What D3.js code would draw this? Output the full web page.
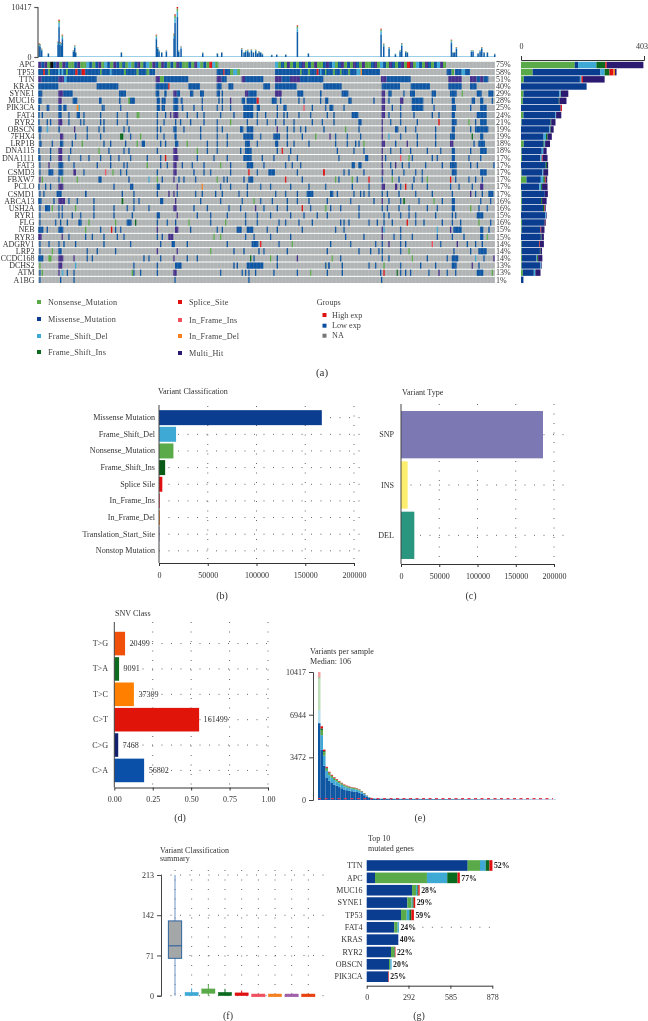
<!DOCTYPE html>
<html><head><meta charset="utf-8">
<script src="https://cdnjs.cloudflare.com/ajax/libs/d3/7.8.5/d3.min.js"></script>
<style>html,body{margin:0;background:#fff}svg{display:block;filter:blur(.3px)}text{font-family:"Liberation Serif",serif;fill:#333}</style>
</head><body><svg id="c" width="648" height="1021"></svg>
<script>
// ---------- shared categories
const typeColor={m:"#0a3d8f",n:"#5aaa4a",l:"#3fa9d6",i:"#0a6a1e",s:"#e01010",r:"#ef5060",o:"#f58020",p:"#2c1a70"};
const legendLeft=[["n","Nonsense_Mutation"],["m","Missense_Mutation"],["l","Frame_Shift_Del"],["i","Frame_Shift_Ins"]];
const legendMid=[["s","Splice_Site"],["r","In_Frame_Ins"],["o","In_Frame_Del"],["p","Multi_Hit"]];
const legendGroups=[["#e01010","High exp"],["#0a4f9e","Low exp"],["#777","NA"]];
// ---------- (a) oncoplot
const genes=["APC","TP53","TTN","KRAS","SYNE1","MUC16","PIK3CA","FAT4","RYR2","OBSCN","7FHX4","LRP1B","DNA115","DNA1111","FAT3","CSMD3","FBXW7","PCLO","CSMD1","ABCA13","USH2A","RYR1","FLG","NEB","RYR3","ADGRV1","LRP2","CCDC168","DCHS2","ATM","A1BG"];
const genePct=[75,58,51,40,29,28,25,24,21,19,19,18,18,17,17,17,17,17,17,16,16,15,16,15,15,14,14,14,13,13,1];
const sampleStart=115, sampleEnd=1485, rightOffset=960;
// APC stripes: one letter per 9 sample units
const apcLeftStart=115, apcLeft="pmpngmpnpmnnmpnnlmnmpnlmnpmnmnlnmpnmlnpmnpmnmnpmnnmnplnmnsln";
const apcRightStart=825, apcRight="lnmnpnmnmpnmnpnnmpmlnmpnmnpmnpnnmpnlmnpmnmpnspnlmnpmnmlpn";
const oncoLeft=[
"",
"115-130m 130-135s 135-145m 145-150n 150-175m 175-180l 180-185m 185-190l 190-198m 198-204n 204-226m 226-233s 233-245m 245-256s 256-300m 300-305n 305-330m 330-335l 335-372m 372-378n 378-410m 410-416n 416-440m 440-448n 448-465m 650-670m 670-674s 674-690m 690-700n 700-712l 712-720n 825-900m 900-905n 905-925m 925-930n 930-950m 950-956s 956-985m",
"115-125p 125-175m 175-192p 192-200l 200-225m 225-290m 467-480p 480-492n 492-565m 650-665p 665-680m 725-735p 735-790m 825-845p 845-870m 870-900p 900-925m 925-970m",
"115-175m 290-355m 467-505m 505-508s 565-600m 650-665m 685-700m 790-810m 825-890m",
"115-127 175-190p 190-218 357-378 467-478 493-500 520-530p 530-540 570-580 600-612 650-660 665 735-745p 745-770 825-845p 892-910",
"115-125 175-185p 218-232 297-305 357-362 385-390n 390-405 470-480 485-497 520-535 542-548 605 655 665 690p 725-735 740-770 770-776s 815-830 840 895 910 960",
"115-120 140-148 175-185 190-200 230-236o 236-240l 305 310 360 470-480 485-495 520-535 545-550 580 605 650 665 690 730-760 770-780 830 850-860 910r 935 975",
"115 125 175-185 205 230-240 250 300 350 380 410-418n 470 495 510p 520-535p 560 590 610 660 700 730-760 770 795 830 850 860 895 930",
"115 140 150 175-187p 205 240 250 300 310 350 380 470 490 525 540 570 610 650 690n 740 770 800 825 850 880 935",
"115-125 140-145l 175-180 222p 260 295 310 370 385 470 480 520-530 550 600 650 665 720-730 740-760 830p 860 880 900 915",
"118 180-190p 225 260 300 360-370i 390 420n 470 490 523-530 600 650 680 730-760 780 820-840 860 905 945n",
"118-125 155 180-190 215 245n 310 330 375 410n 425-435 480 495 525-535 560n 620 650 680 735-750 770 825-835 860 880 925",
"115 150 175-187p 210 295n 325 370 385 470 520-532p 590n 620 650 720 735-755 830 845s 870",
"115-122 150 175-187p 205 240 265 300 330 355 390 440 480 495s 520-535p 590 640 680 730-755 785 820 865 890",
"118 145p 175-190 220 290 330 370 380 440n 480 500 520-530p 545 575 610 660n 690 740-760 790 855 875 900",
"118 145-160 175-190 220-228p 250 315r 337n 360 378 470 520-530p 580 610 630 690 745s 770 805-825 890 970s",
"118p 125n 175 185n 230n 295-305 385 445l 470n 485 520p 535 550 585 650n 670 680 730 745-760 855s 905",
"115 135 150 175-190p 340 390-400 470-480 530p 605o 660 690 740 780 810 870 925",
"118 130 170-185 255-260 365 400 470 505p 520p 530 585 605 645 665 715 740 825 855 890 920-940",
"115-125 160 175-195p 205 230 280 365-370i 400 415 480-490 525p 600 660 725 760n 780 815 860 890 925",
"118 135-150 155n 175 185 225n 280 340 380 400 445 520-530p 580 620 685 720 765p 790 830 860 905s 930 975n",
"118 175 185 215 240 280 340 395 470-480 530p 590 630 680 735 770 810 870 910 950",
"118 165 180 200 235-245 265n 345n 380-395 405i 470 500 525 565n 630 675n 735 770 835 855 895 935",
"115-130 140 175-190 255n 300 333s 345 360 470p 525-535p 570 650 665 710-725 740-760 800 830 905",
"115-125p 185p 205 255 275 310 350 370 470 485 505-520p 640n 660n 735 760 810 870",
"118 145 175 190 225 310 390 480 515-525 560 680 755-775 780s 835 875n",
"118 155n 175-185 260 290 345 470p 530p 630n 700 730 775 790 860",
"115-130 145-155n 175-190p 220p 260 275 430 445 480 520p 560 590 750i 760 810n 830 890p",
"118n 175-187p 225l 400 470 525-545 700 710 740-790 830 975n 985",
"118 125n 175p 185-190l 200 220 395n 400 420 470 520-530p 660 725 735 745 765 820 890 930n",
"118 180 220 523 745"];
const oncoRight=[
"",
"0-5l 5-15m 15-20n 20-40m 40-45n 45-60m 60-65n 65-85m 85-90n 90-110m 110-122l 122-126o 126-180m 380-395m 395-402n 405-425m 425-435l 435-450m",
"0-5m 183-200p 200-272m 385-425p 450-470p 470-480m 480-490p 490-505m",
"10-65m 185-240m 272-330m 385-425m 450-470m",
"0-5 65-85 185-195p 205-215 250 270-285 335-348 390-410 425n 470-485 505-520",
"15-25 85-95 160 185-195p 205 240-250p 275-310 335 395-405 455-465 480-490 515",
"28-40 70 185-195p 215 240 275-310 340 395-408 450 480-500",
"20 40 95-115 185-195p 205 240 280 335 355 395-405 470-500",
"5 40 115-125 185p 210 240 290 355s 395-410 445n 465 480-500",
"10 75n 115 185p 225-235 255 285 345 395-405 450 465-505",
"28p 45 80 120 185p 205l 240 290 345 390-405 455i 480-490",
"45 80 105 115 130n 185-195p 225 260p 290 345 390-400p 460 475-495",
"50 100 130 185p 210 240 270 320 360 395-405 450 480-500",
"55 135-145 185p 195 240r 265n 275 335 350 395-405 445 480",
"95-105 115-125 185p 210 225p 245 265 315 365 390-410 450 470 520",
"10s 70 85 130 185-190p 215 250 285 305 395-410 480-500",
"45n 55 95n 110 145s 185 215n 235 280 305 320n 390s 405 445 465 485",
"15 95 145 185-195p 225-232p 240 255s 275 320 390 415 455 480-490p",
"30-40 50 100 120 130 145 185 200 235 285 335 395 450p 465 485 505-520",
"20 90 160 185p 205 240 250-255i 295 340n 365 395-405 480 510",
"15n 30 60 115 185 200 235 265 320 350 395-405 450n 475 500",
"20 115 190 205 240 265 285 345 395 405 470-490",
"60 70 85 145 170 190 215 260s 285 310 365 395 420 475n 510",
"45 70 185p 190l 240 350l 390p 400-425 480-490 505",
"75 130 185p 220 240 275 350 395 430 480-490 500n",
"30 90 165 185 205p 240 255 335r 360 410p 440 465 485",
"20 115 150 175 185 240 265n 400 450 475-500",
"35n 60 185 205 275n 320 380 395-415 465l 490 520p",
"15 25 65 145 165 190n 240 300 345 395-410 455p 475",
"20 65 180 190s 230i 240 255 270 325 355p 380 405 470-490 515n",
"183"];
// top bars: sample position, total variants
const tmbPos=[115,118,123,143,172,175,178,182,185,218,222,225,362,467,471,475,483,497,520,523,530,534,541,606,650,663,723,730,735,741,745,752,758,765,770,775,780,785,813,828,855,890,923,1141,1149,1165,1184,1198,1203,1215,1220,1352,1357,1362,1367,1412,1417,1432,1438,1443,1450,1460,1482];
const tmbVal=[2917,2700,1736,830,3200,7778,3125,2900,4650,1400,2430,1050,1040,4650,2083,1400,1040,1390,4860,8890,10417,1390,2222,970,830,1040,1875,1040,1390,1530,1040,1600,1040,1530,830,1250,1040,700,480,560,560,6600,830,5900,2780,2083,690,1390,2917,1250,1040,3611,1040,1040,2083,1390,1390,830,1390,2083,1040,1040,690];
const tmbShares=[["m",.8],["l",.11],["n",.06],["s",.03]];
const tmbBaseline=140, tmbMax=10417;
// right-side stacked bars (letter:count per gene)
const geneTotals=[
"n176 m11 l60 i29 s5 p120","n38 m222 l14 i16 s13 o5 p5","n9 m184 l5 s5 p71","m215","n8 m118 l4 i1 p24","n6 m118 i2 p23","m130 s4","n8 m105 l2 p17",
"n2 m95 i2 p14","m93 l2 i2 p10","m74 l8 i5 p14","n9 m65 i3 l2 p16","n2 m66 l5 p11","n3 m60 l5 s3 p16","m81 i4 p4","n2 m68 l3 p16",
"n18 m47 l8 i5 s3 p5","m60 l6 i3 p18","n2 m76 p10","n3 m63 i3 p15","n2 m70 i4 s2 p3","m80 l2 p2","n3 m75 s2 p2","n2 m62 s2 p11","m65 i2 p8",
"n2 m58 s2 p13","n2 m60 i2 p5","n3 m48 l2 i3 p14","n2 m62 l2 p2","n6 m36 l5 p17","m8"];
const totalMax=403;
// ---------- (b)
const vcCats=["Missense Mutation","Frame_Shift_Del","Nonsense_Mutation","Frame_Shift_Ins","Splice Sile","In_Frame_Ins","In_Frame_Del","Translation_Start_Site","Nonstop Mutation"];
const vcVals=[167000,17500,14800,6300,3400,1000,900,300,100];
const vcCols=["#0a3d8f","#3fa9d6","#5aaa4a","#0a5a18","#e01010","#ef5060","#f58020","#5a3a90","#888"];
const countTicks=[0,50000,100000,150000,200000];
// ---------- (c)
const vtCats=["SNP","INS","DEL"], vtVals=[185600,8700,17400], vtCols=["#7b78b4","#fdee6e","#2a9680"];
// ---------- (d)
const snvCats=["T>G","T>A","T>C","C>T","C>G","C>A"], snvVals=[20499,9091,37309,161499,7468,56802];
const snvCols=["#f0500a","#0f6b20","#ff8000","#e01408","#12206e","#0a4fa8"], fracTicks=[0,.25,.5,.75,1];
// ---------- (e)
const perSample=[10417,6000,4100,2700,2300,2050,1850,1700,1550,1400,1260,1170,1100,1050,1010,960,870,730,570,380,240,170,140,125,
115,114,112,110,109,108,106,105,104,102,100,99,98,96,95,94,92,90,89,88,86,85,84,82,80,79,78,76,75,74,72,70,69,68,66,65,64,62,60,59,58,56,55,54,52,50,49,48,46,45,44,43,42,41,40,39,38,37,36,35,34,33,32,31,30,29,28,27,26,25,24];
const perShares=[["m",.68],["l",.2],["n",.07],["i",.02],["s",.03]];
const firstSampleShares=[["m",.6],["l",.1],["n",.25],["i",.01],["s",.04]];
const perTicks=[0,3472,6944,10417];
// ---------- (f)
const boxCols=["#a3a7a8","#3fa9d6","#5aaa4a","#0a6a1e","#e01010","#ef5060","#f58020","#a060a8","#e84010"];
const boxQ1=[66,0,4,0,0,-2,-2,-2,-2], boxMed=[88,3,8,2,1,0,0,0,0], boxQ3=[132,6,12,6,5,3,3,3,3], boxHi=[213,13,20,12,9,4,4,4,4], boxLo=[0,0,0,0,0,0,0,0,0];
const boxTicks=[0,71,142,213];
// ---------- (g)
const topGenes=["TTN","APC","MUC16","SYNE1","TP53","FAT4","KRAS","RYR2","OBSCN","PIK3CA"];
const topPct=["52%","77%","28%","29%","59%","24%","40%","22%","20%","25%"];
const topMiss=[706,58,317,284,240,193,221,170,156,151];
const topNons=[86,363,28,30,40,23,0,21,9,0];
const topDel=[40,142,9,7,18,9,0,2,9,0];
const topIns=[26,72,7,7,14,0,0,4,0,0];
const topSpl=[21,16,9,11,18,0,0,4,0,4];
const topTicks=[0,292,585,878];

// ---------- drawing
const svg=d3.select("#c");
const T=(x,y,s,fs=8.1,a="start",col="#333")=>svg.append("text").attr("x",x).attr("y",y).attr("font-size",fs).attr("text-anchor",a).style("fill",col).text(s);
const parseTokens=(str,off=0)=>str.split(" ").filter(Boolean).map(t=>{const m=t.match(/^(\d+)(?:-(\d+))?([a-z]?)$/);const a=+m[1];return{a:a+off,b:(m[2]?+m[2]:a+4)+off,t:m[3]||"m"}});
const xS=d3.scaleLinear([sampleStart,sampleEnd],[38.3,495]);
const gY=d3.scaleBand(genes,[61.8,283]).paddingInner(.14);
const oncoG=svg.append("g");
oncoG.selectAll("rect.bg").data(genes).join("rect").attr("x",38.3).attr("width",456.7).attr("y",d=>gY(d)).attr("height",gY.bandwidth()).attr("fill","#b0b4b4");
const cells=[];
genes.forEach((g,i)=>{parseTokens(oncoLeft[i]).forEach(c=>cells.push({...c,g}));parseTokens(oncoRight[i],rightOffset).forEach(c=>cells.push({...c,g}))});
[...apcLeft].forEach((t,i)=>cells.push({a:apcLeftStart+i*9,b:apcLeftStart+(i+1)*9,t,g:"APC"}));
[...apcRight].forEach((t,i)=>cells.push({a:apcRightStart+i*9,b:apcRightStart+(i+1)*9,t,g:"APC"}));
oncoG.selectAll("rect.c").data(cells).join("rect").attr("x",d=>xS(d.a)).attr("width",d=>Math.max(1.1,xS(d.b)-xS(d.a)))
 .attr("y",d=>gY(d.g)).attr("height",gY.bandwidth())
 .attr("fill",d=>d.t=="m"?"#0e55a2":d.t=="p"?"#46308c":typeColor[d.t]);
oncoG.selectAll("line.v").data(d3.range(41,495,3.6)).join("line").attr("x1",d=>d).attr("x2",d=>d).attr("y1",61.8).attr("y2",283).attr("stroke","#fff").attr("stroke-width",.5).attr("opacity",.22);
genes.forEach((g,i)=>{const y=gY(g)+gY.bandwidth()/2+2.6;T(34.5,y,g,8,"end");T(496,y,genePct[i]+"%",8)});
// top bars
const tY=d3.scaleLinear([0,tmbMax],[57,7]);
svg.append("rect").attr("x",38.3).attr("width",456.7).attr("y",tY(tmbBaseline)).attr("height",tY(0)-tY(tmbBaseline)).attr("fill","#6bb8dc");
tmbPos.forEach((p,i)=>{let acc=0;tmbShares.forEach(([t,s])=>{const v=tmbVal[i]*s;
 svg.append("rect").attr("x",xS(p)).attr("width",1.5).attr("y",tY(acc+v)).attr("height",tY(acc)-tY(acc+v)).attr("fill",t=="m"?"#0e5ca8":typeColor[t]);acc+=v})});
const tAxis=svg.append("g").attr("transform","translate(37.5,0)").call(d3.axisLeft(tY).tickValues([0,tmbMax]).tickSize(3).tickFormat(d3.format("d")));
tAxis.selectAll("path,line").attr("stroke","#555").attr("stroke-width",1.2);tAxis.selectAll("text").attr("font-size",8).attr("dy",".3em");
// right stacked
const rX=d3.scaleLinear([0,totalMax],[521,644]);
const rBand=d3.scaleBand(genes,[61.8,283]).paddingInner(.1);
genes.forEach((g,i)=>{let acc=0;geneTotals[i].split(" ").forEach(tok=>{const t=tok[0],v=+tok.slice(1);
 svg.append("rect").attr("x",rX(acc)).attr("width",rX(acc+v)-rX(acc)).attr("y",rBand(g)).attr("height",rBand.bandwidth()).attr("fill",typeColor[t]);acc+=v})});
const rA=svg.append("g").attr("transform","translate(0,60)").call(d3.axisTop(rX).tickValues([0,totalMax]).tickSize(4).tickSizeOuter(4).tickFormat(d3.format("d")));
rA.selectAll("path,line").attr("stroke","#333");rA.selectAll("text").attr("font-size",8).attr("dy","-4px");
rA.selectAll(".tick").filter(d=>d==totalMax).select("text").attr("text-anchor","end").attr("x",3.5);
// legend
[[legendLeft,39,48,[302,319,336,352]],[legendMid,180,189,[302,320,336,353]]].forEach(([L,sx,tx,ys])=>L.forEach(([t,s],i)=>{
 svg.append("rect").attr("x",sx-2).attr("y",ys[i]-2).attr("width",4).attr("height",4).attr("fill",typeColor[t]);
 T(tx,ys[i]+2.5,s,8.2,"start","#444").attr("letter-spacing",.2)}));
T(316.7,304.5,"Groups",8.2,"start","#444");
legendGroups.forEach(([c,s],i)=>{const y=[315,325.7,335.7][i];svg.append("rect").attr("x",322.5).attr("y",y-2).attr("width",4).attr("height",4).attr("fill",c);T(332,y+2.5,s,8.2,"start","#444")});
T(322,376,"(a)",11,"middle");

function dotted(x1,y1,x2,y2){svg.append("line").attr("x1",x1).attr("y1",y1).attr("x2",x2).attr("y2",y2).attr("stroke","#555").attr("stroke-width",.9).attr("stroke-dasharray","1 8.5");}
function axL(x,y1,y2){svg.append("line").attr("x1",x).attr("x2",x).attr("y1",y1).attr("y2",y2).attr("stroke","#444").attr("stroke-width",1);}
function bottomAxis(scale,y,ticks,fmt,fs=8){const g=svg.append("g").attr("transform",`translate(0,${y})`).call(d3.axisBottom(scale).tickValues(ticks).tickSize(3).tickSizeOuter(0).tickFormat(fmt));
 g.selectAll("path,line").attr("stroke","#333");g.selectAll("text").attr("font-size",fs).attr("dy","8.5");return g;}
// (b)
const bX=d3.scaleLinear([0,200000],[159,354]);
const bY=d3.scaleBand(vcCats,[408.5,560]).padding(.1);
T(158,393.5,"Variant Classification");
countTicks.forEach(v=>{if(v)dotted(bX(v),406,bX(v),563)});
vcCats.forEach(c=>dotted(159,bY(c)+bY.bandwidth()/2,360,bY(c)+bY.bandwidth()/2));
svg.selectAll("rect.vc").data(vcCats).join("rect").attr("x",bX(0)).attr("y",d=>bY(d)).attr("height",bY.bandwidth()).attr("width",(d,i)=>bX(vcVals[i])-bX(0)).attr("fill",(d,i)=>vcCols[i]);
vcCats.forEach(c=>T(155,bY(c)+bY.bandwidth()/2+2.5,c,8.1,"end"));
axL(159,405,563);bottomAxis(bX,563,countTicks,d3.format("d"));T(222,599,"(b)",10,"middle");
// (c)
const cX=d3.scaleLinear([0,200000],[401,554]);
const cY=d3.scaleBand(vtCats,[408,562]).padding(.06);
T(402,394.5,"Variant Type");
countTicks.forEach(v=>{if(v)dotted(cX(v),404,cX(v),564)});
vtCats.forEach(c=>dotted(401,cY(c)+cY.bandwidth()/2,566,cY(c)+cY.bandwidth()/2));
svg.selectAll("rect.vt").data(vtCats).join("rect").attr("x",cX(0)).attr("y",d=>cY(d)).attr("height",cY.bandwidth()).attr("width",(d,i)=>cX(vtVals[i])-cX(0)).attr("fill",(d,i)=>vtCols[i]);
vtCats.forEach(c=>T(394,cY(c)+cY.bandwidth()/2+2.5,c,8.1,"end"));
axL(401,404,564);bottomAxis(cX,564,countTicks,d3.format("d"));T(471,599,"(c)",10,"middle");
// (d)
const snvTotal=d3.sum(snvVals);
const dX=d3.scaleLinear([0,1],[114.3,268]);
const dY=d3.scaleBand(snvCats,[630,784]).padding(.07);
T(115,616,"SNV Class");
fracTicks.forEach(v=>{if(v)dotted(dX(v),622,dX(v),787)});
snvCats.forEach(c=>dotted(114,dY(c)+dY.bandwidth()/2,272,dY(c)+dY.bandwidth()/2));
svg.selectAll("rect.snv").data(snvCats).join("rect").attr("x",dX(0)).attr("y",d=>dY(d)).attr("height",dY.bandwidth()).attr("width",(d,i)=>dX(snvVals[i]/snvTotal)-dX(0)).attr("fill",(d,i)=>snvCols[i]);
snvCats.forEach((c,i)=>{T(dX(snvVals[i]/snvTotal)+4.5,dY(c)+dY.bandwidth()/2+2.5,snvVals[i],8.1);T(108,dY(c)+dY.bandwidth()/2+2.5,c,8.1,"end")});
axL(114.3,622,787.5);bottomAxis(dX,787.5,fracTicks,d3.format(".2f"));T(180,821,"(d)",10,"middle");
// (e)
const eY=d3.scaleLinear([0,10417],[800,672]);
const eX=d3.scaleBand(d3.range(perSample.length),[318,556]);
T(310,654,"Variants per sample");T(310,664,"Median: 106");
perSample.forEach((v,i)=>{let acc=0;(i==0?firstSampleShares:perShares).forEach(([t,s])=>{const h=v*s;
 svg.append("rect").attr("x",eX(i)).attr("width",eX.bandwidth()).attr("y",eY(acc+h)).attr("height",eY(acc)-eY(acc+h)).attr("fill",t=="m"?"#0e55a2":typeColor[t]).attr("opacity",i==0&&t!="m"?.4:1);acc+=h})});
svg.append("line").attr("x1",318).attr("x2",553).attr("y1",eY(106)).attr("y2",eY(106)).attr("stroke","#e03a55").attr("stroke-width",1.2).attr("stroke-dasharray","3 3.5");
const eA=svg.append("g").attr("transform","translate(313,0)").call(d3.axisLeft(eY).tickValues(perTicks).tickSize(4).tickFormat(d3.format("d")));
eA.selectAll("path,line").attr("stroke","#444");eA.selectAll("text").attr("font-size",8);
T(420,821,"(e)",10,"middle");
// (f)
const fY=d3.scaleLinear([0,213],[995.7,875]);
const fX=d3.scaleBand(d3.range(boxCols.length),[166.67,316.67]).paddingInner(.2).paddingOuter(.1);
T(160,853,"Variant Classification",8);T(160,861,"summary",8);
boxTicks.forEach(v=>dotted(161,fY(v),325,fY(v)));
boxCols.forEach((c,i)=>dotted(fX(i)+fX.bandwidth()/2,870,fX(i)+fX.bandwidth()/2,996));
boxCols.forEach((c,i)=>{const cx=fX(i)+fX.bandwidth()/2,st=i==0?"#1f5a9c":c;
 svg.append("line").attr("x1",cx).attr("x2",cx).attr("y1",fY(boxHi[i])).attr("y2",fY(boxLo[i])).attr("stroke",i==0?"#6f93c8":c).attr("stroke-width",1);
 svg.append("rect").attr("x",fX(i)).attr("width",fX.bandwidth()).attr("y",fY(boxQ3[i])).attr("height",fY(boxQ1[i])-fY(boxQ3[i])).attr("fill",c).attr("stroke",st).attr("stroke-width",i==0?.9:.4);
 if(i==0)svg.append("line").attr("x1",fX(i)).attr("x2",fX(i)+fX.bandwidth()).attr("y1",fY(boxMed[i])).attr("y2",fY(boxMed[i])).attr("stroke",st);});
const fA=svg.append("g").attr("transform","translate(161,0)").call(d3.axisLeft(fY).tickValues(boxTicks).tickSize(4).tickFormat(d3.format("d")));
fA.selectAll("path,line").attr("stroke","#444");fA.selectAll("text").attr("font-size",8);
T(228,1019,"(f)",10,"middle");
// (g)
const gX=d3.scaleLinear([0,878],[366.7,492.3]);
const gBand=d3.scaleBand(topGenes,[860.2,982]).paddingInner(.14);
T(368,841,"Top 10",8);T(368,851,"mutated genes",8);
const gSeries=[["m",topMiss],["n",topNons],["l",topDel],["i",topIns],["s",topSpl]];
topGenes.forEach((g,i)=>{let acc=0;gSeries.forEach(([t,a])=>{const v=a[i];svg.append("rect").attr("x",gX(acc)).attr("width",gX(acc+v)-gX(acc)).attr("y",gBand(g)).attr("height",gBand.bandwidth()).attr("fill",typeColor[t]);acc+=v});
 const cy=gBand(g)+gBand.bandwidth()/2;
 T(gX(acc)+1.5,cy+2.7,topPct[i],7.8,"start","#222").style("font-weight","600");T(362.5,cy+2.7,g,8,"end");
 if(g=="FAT4")dotted(gX(acc)+14,cy,493,cy);});
const gA=bottomAxis(gX,985.7,topTicks,d3.format("d"));
T(419,1019,"(g)",10,"middle");
</script></body></html>
